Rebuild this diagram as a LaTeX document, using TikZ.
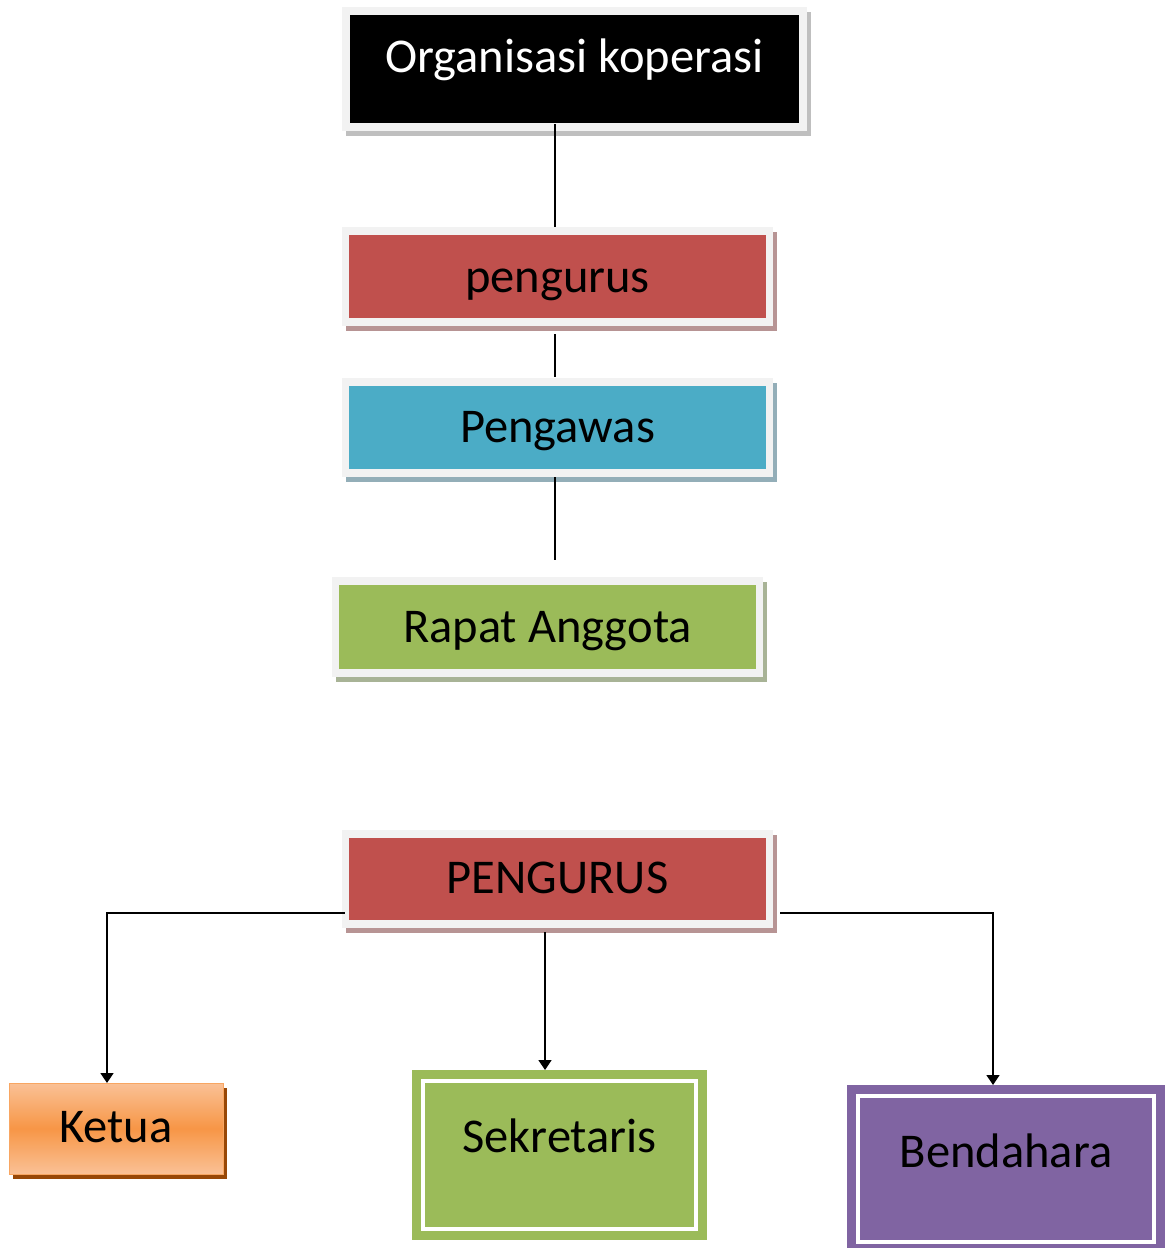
\documentclass[tikz,border=0pt]{standalone}
\usepackage{fontspec}
\setmainfont{Carlito}
\usetikzlibrary{arrows.meta,shadows}
\definecolor{frameGray}{HTML}{F2F2F2}
\definecolor{redBox}{HTML}{C0504D}
\definecolor{blueBox}{HTML}{4BACC6}
\definecolor{greenBox}{HTML}{9BBB59}
\definecolor{purpleBox}{HTML}{8064A2}
\definecolor{orangeBox}{HTML}{F79646}
\definecolor{orangeLight}{HTML}{FAC196}
\definecolor{orangeShadow}{HTML}{984807}
\definecolor{shBlack}{HTML}{BFBFBF}
\definecolor{shRed}{HTML}{B79494}
\definecolor{shBlue}{HTML}{93AEB8}
\definecolor{shGreen}{HTML}{A8B396}
\tikzset{
  framebox/.style={draw=frameGray, line width=7.5pt, inner sep=0pt, outer sep=0pt,
    minimum width=424pt, minimum height=91pt},
  shadowof/.style={general shadow={shadow xshift=4pt, shadow yshift=-5pt, fill=#1, draw=#1, line width=7.5pt}},
  lbl/.style={anchor=base, font=\fontsize{48.5}{54}\selectfont, inner sep=0pt, outer sep=0pt},
  conn/.style={line width=1.4pt, black},
  arr/.style={conn, -{Triangle[width=13pt,length=10pt]}},
  dblbox/.style={inner sep=0pt, outer sep=0pt, fill=#1, draw=none,
    path picture={\draw[white, line width=4pt]
      ([shift={(11pt,-11pt)}]path picture bounding box.north west) rectangle
      ([shift={(-11pt,11pt)}]path picture bounding box.south east);}},
}
\begin{document}
\begin{tikzpicture}[x=1pt,y=-1pt]
\clip (0,0) rectangle (1170,1248);
\fill[white] (0,0) rectangle (1170,1248);

% top chart boxes
\node[framebox, fill=black, minimum width=457pt, minimum height=116pt, shadowof=shBlack] (org) at (574.5,69) {};
\node[framebox, fill=redBox, shadowof=shRed] (peng) at (557.5,276.5) {};
\node[framebox, fill=blueBox, shadowof=shBlue] (awas) at (557.5,427.5) {};
\node[framebox, fill=greenBox, minimum height=92pt, shadowof=shGreen] (rapat) at (547.5,627) {};

\node[lbl, text=white] (torg) at (574.5,72) {Organisasi koperasi};
\node[lbl] (tpeng) at (557.5,292) {pengurus};
\node[lbl] (tawas) at (557.5,442) {Pengawas};
\node[lbl] (trapat) at (547.5,642) {Rapat Anggota};

% top connectors
\draw[conn, shorten <=-3pt, shorten >=4pt] ([xshift=-19.5pt]org.south) -- ([xshift=-19.5pt]org.south |- peng.north);
\draw[conn, shorten <=12pt, shorten >=5pt] ([xshift=-2.5pt]peng.south) -- ([xshift=-2.5pt]peng.south |- awas.north);
\draw[conn, shorten <=4pt, shorten >=21pt] ([xshift=-2.5pt]awas.south) -- ([xshift=-2.5pt]awas.south |- rapat.north);

% bottom chart
\node[framebox, fill=redBox, minimum height=90pt, shadowof=shRed] (P) at (557.5,879) {};
\node[lbl] (tP) at (557.5,893) {PENGURUS};

\node[inner sep=0pt, outer sep=0pt, draw=orangeBox!85!white, line width=1pt,
  top color=orangeLight, bottom color=orangeLight, middle color=orangeBox,
  minimum width=214pt, minimum height=91pt,
  general shadow={shadow xshift=4pt, shadow yshift=-5pt, fill=orangeShadow}] (ketua) at (116,1128.5) {};
\node[lbl] (tketua) at (116,1142) {Ketua};

\node[dblbox=greenBox, minimum width=295pt, minimum height=170pt] (sek) at (559.5,1155) {};
\node[lbl] (tsek) at (559.5,1152) {Sekretaris};

\node[dblbox=purpleBox, minimum width=318pt, minimum height=168pt] (bend) at (1006,1169) {};
\node[lbl] (tbend) at (1006,1167) {Bendahara};

% bottom connectors
\draw[arr, shorten <=1pt] ([yshift=-34pt]P.west) -| ([xshift=-9pt]ketua.north);
\draw[arr, shorten <=8pt] ([xshift=-12.5pt]P.south) -- ([xshift=-12.5pt]P.south |- sek.north);
\draw[arr] ([xshift=10.5pt,yshift=-34pt]P.east) -| ([xshift=-13pt]bend.north);
\end{tikzpicture}
\end{document}
